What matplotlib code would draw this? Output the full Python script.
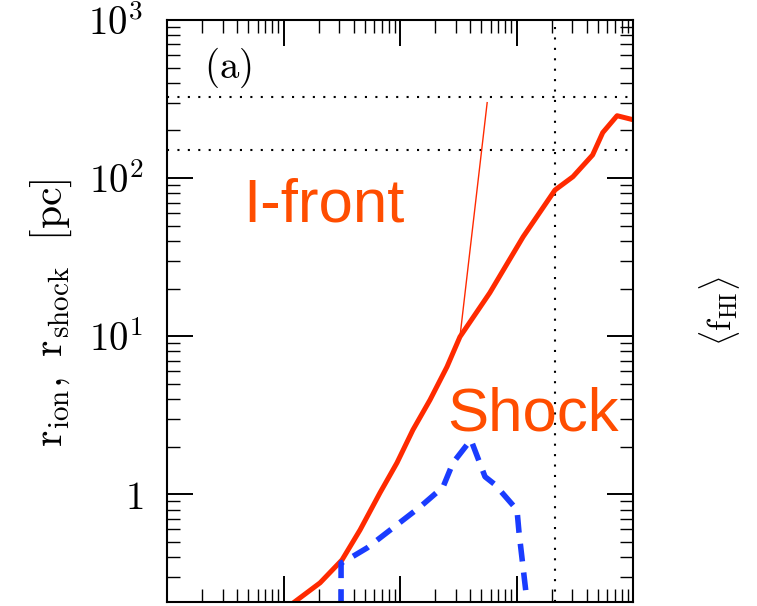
import matplotlib
matplotlib.use("Agg")
import matplotlib.pyplot as plt
from matplotlib.ticker import LogLocator, FixedLocator, FixedFormatter, NullFormatter

plt.rcParams['mathtext.fontset'] = 'cm'

# time [yr] and radius [pc]
ifront_t = [1.1e4, 1.21e4, 2.06e4, 3.18e4, 4.54e4, 6.73e4, 9.42e4, 1.29e5, 1.81e5,
            2.53e5, 3.27e5, 5.9e5, 1.14e6, 2.14e6, 3.05e6, 4.5e6, 5.5e6, 7.3e6, 1.0e7]
ifront_r = [0.19, 0.205, 0.275, 0.384, 0.594, 1.02, 1.58, 2.55, 3.95,
            6.39, 9.9, 18.8, 42.5, 84, 102, 140, 194, 248, 234]

# thin analytic I-front branch
thin_t = [3.27e5, 5.6e5]
thin_r = [9.9, 300]

shock_t = [3.12e4, 3.12e4, 3.51e4, 5.21e4, 1.49e5, 2.34e5, 2.85e5, 4.06e5, 5.37e5,
           6.54e5, 1.01e6, 1.05e6, 1.25e6]
shock_r = [0.19, 0.367, 0.384, 0.457, 0.832, 1.11, 1.58, 2.21, 1.29,
           1.15, 0.796, 0.577, 0.19]

hline_r = [327, 151]
vline_t = 2.14e6

ytick_vals = [1, 10, 100, 1000]
ytick_labels = [r'$1$', r'$10^{1}$', r'$10^{2}$', r'$10^{3}$']

fig = plt.figure(figsize=(7.57, 6.06), dpi=100)
ax = fig.add_axes([167 / 757, 1 - 602 / 606, 466 / 757, 582 / 606])

ax.set_xscale('log')
ax.set_yscale('log')
ax.set_xlim(1e3, 1e7)
ax.set_ylim(0.208, 1000)

for r in hline_r:
    ax.axhline(r, color='black', lw=1.5, linestyle=(0, (1, 4)))
ax.axvline(vline_t, color='black', lw=1.5, linestyle=(0, (1, 4)))

ax.plot(thin_t, thin_r, color='#ff2a00', lw=1.0)
ax.plot(ifront_t, ifront_r, color='#ff2a00', lw=3.6, solid_capstyle='butt')
ax.plot(shock_t, shock_r, color='#1a3cff', lw=4.0, dashes=(3.2, 2.0))

ax.text(0.163, 0.653, 'I-front', transform=ax.transAxes, ha='left', va='baseline',
        fontsize=44.5, family='Liberation Sans', color='#ff4d00')
ax.text(0.601, 0.2955, 'Shock', transform=ax.transAxes, ha='left', va='baseline',
        fontsize=44.5, family='Liberation Sans', color='#ff4d00')
ax.text(0.131, 0.9175, r'$\mathrm{(a)}$', transform=ax.transAxes, ha='center', va='center',
        fontsize=28)

ax.yaxis.set_major_locator(FixedLocator(ytick_vals))
ax.yaxis.set_major_formatter(FixedFormatter(ytick_labels))
ax.yaxis.set_minor_locator(LogLocator(base=10, subs=range(2, 10)))
ax.yaxis.set_minor_formatter(NullFormatter())
ax.xaxis.set_major_locator(LogLocator(base=10, numticks=10))
ax.xaxis.set_minor_locator(LogLocator(base=10, subs=range(2, 10), numticks=10))
ax.xaxis.set_minor_formatter(NullFormatter())

ax.tick_params(which='both', direction='in', top=True, right=True,
               labelbottom=False)
ax.tick_params(which='major', length=19, width=1.4, labelsize=28, pad=17)
ax.tick_params(which='minor', length=9.5, width=1.0)
for s in ax.spines.values():
    s.set_linewidth(1.5)

fig.text(51 / 757, 1 - 313 / 606, r'$\mathrm{r_{ion},\ r_{shock}\ \ [pc]}$',
         rotation=90, ha='center', va='center', fontsize=30)
fig.text(719 / 757, 1 - 311 / 606, r'$\langle \mathrm{f_{HI}} \rangle$',
         rotation=90, ha='center', va='center', fontsize=24)

fig.savefig('out.png', dpi=100)
